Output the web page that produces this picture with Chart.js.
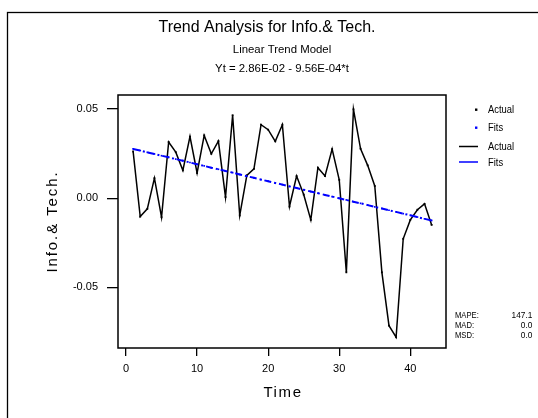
<!DOCTYPE html>
<html>
<head>
<meta charset="utf-8">
<script src="https://cdn.jsdelivr.net/npm/chart.js@4.4.1/dist/chart.umd.min.js"></script>
<style>
  html, body { margin: 0; padding: 0; background: #fff; overflow: hidden; }
  #wrap { position: relative; width: 538px; height: 418px; }
</style>
</head>
<body>
<div id="wrap"><canvas id="c" width="538" height="418"></canvas></div>
<script>
// Time index of each observation
const times = [1, 2, 3, 4, 5, 6, 7, 8, 9, 10, 11, 12, 13, 14, 15, 16, 17, 18, 19, 20, 21,
               22, 23, 24, 25, 26, 27, 28, 29, 30, 31, 32, 33, 34, 35, 36, 37, 38, 39, 40, 41, 42, 43];

// Observed Info.& Tech. values
const actual = [0.0262, -0.0103, -0.0060, 0.0112, -0.0107, 0.0315, 0.0258, 0.0156, 0.0345, 0.0141,
                0.0352, 0.0249, 0.0320, 0.0006, 0.0465, -0.0097, 0.0128, 0.0164, 0.0412, 0.0384,
                0.0319, 0.0412, -0.0047, 0.0124, 0.0020, -0.0122, 0.0171, 0.0124, 0.0275, 0.0103,
                -0.0416, 0.0498, 0.0277, 0.0184, 0.0068, -0.0416, -0.0715, -0.0780, -0.0228, -0.0122,
                -0.0065, -0.0032, -0.0150];

// Fitted values of the linear trend model
const fits = [0.0276, 0.0267, 0.0257, 0.0248, 0.0238, 0.0229, 0.0219, 0.0210, 0.0200, 0.0190,
              0.0181, 0.0171, 0.0162, 0.0152, 0.0143, 0.0133, 0.0123, 0.0114, 0.0104, 0.0095,
              0.0085, 0.0076, 0.0066, 0.0057, 0.0047, 0.0037, 0.0028, 0.0018, 0.0009, -0.0001,
              -0.0010, -0.0020, -0.0029, -0.0039, -0.0049, -0.0058, -0.0068, -0.0077, -0.0087, -0.0096,
              -0.0106, -0.0116, -0.0125];

const xTicks = [0, 10, 20, 30, 40];
const yTicks = [-0.05, 0, 0.05];
const yTickLabels = ['-0.05', '0.00', '0.05'];

const titleText = 'Trend Analysis for Info.& Tech.';
const subtitleLines = ['Linear Trend Model', 'Yt = 2.86E-02 - 9.56E-04*t'];
const xTitle = 'Time';
const yTitle = 'Info.& Tech.';
const legendLabels = ['Actual', 'Fits', 'Actual', 'Fits'];
const statNames = ['MAPE:', 'MAD:', 'MSD:'];
const statValues = ['147.1', '0.0', '0.0'];

const FONT = '"Liberation Sans", Arial, Helvetica, sans-serif';
const BLUE = '#0000ff';

function text(ctx, str, x, y, size, align, sx, spacing) {
  ctx.save();
  ctx.translate(x, y);
  ctx.scale(sx || 1, 1);
  ctx.font = size + 'px ' + FONT;
  ctx.textAlign = align || 'left';
  ctx.textBaseline = 'alphabetic';
  ctx.letterSpacing = (spacing || 0) + 'px';
  ctx.fillStyle = '#000';
  ctx.fillText(str, 0, 0);
  ctx.restore();
}

// Page decorations: frame, titles, axis titles, legend and accuracy measures
const decor = {
  id: 'decor',
  beforeDraw(chart) {
    const ctx = chart.ctx;
    ctx.save();
    ctx.fillStyle = '#fff';
    ctx.fillRect(0, 0, chart.width, chart.height);
    ctx.restore();
  },
  afterDraw(chart) {
    const ctx = chart.ctx;
    const a = chart.chartArea;
    ctx.save();
    // outer frame
    ctx.strokeStyle = '#000';
    ctx.lineWidth = 1.3;
    ctx.strokeRect(7.5, 12.5, 700, 700);
    // plot box
    ctx.lineWidth = 1.5;
    ctx.strokeRect(a.left, a.top, a.right - a.left, a.bottom - a.top);
    ctx.restore();

    // titles
    text(ctx, titleText, 267, 31.5, 17, 'center', 0.94);
    text(ctx, subtitleLines[0], 282, 53, 11.4, 'center', 1);
    text(ctx, subtitleLines[1], 282, 72, 11.4, 'center', 1);

    // axis titles
    text(ctx, xTitle, (a.left + a.right) / 2 + 1, 397, 15, 'center', 1, 1.6);
    ctx.save();
    ctx.translate(57.3, (a.top + a.bottom) / 2);
    ctx.rotate(-Math.PI / 2);
    text(ctx, yTitle, 0, 0, 15, 'center', 1, 1.9);
    ctx.restore();

    // legend
    const rows = [112.5, 130.5, 149.5, 165.5];
    ctx.save();
    ctx.fillStyle = '#000';
    ctx.fillRect(475, 108.5, 2.4, 2.4);
    ctx.fillStyle = BLUE;
    ctx.fillRect(475, 126.5, 2.4, 2.4);
    ctx.lineWidth = 1.5;
    ctx.strokeStyle = '#000';
    ctx.beginPath(); ctx.moveTo(459, 146.5); ctx.lineTo(478, 146.5); ctx.stroke();
    ctx.strokeStyle = BLUE;
    ctx.beginPath(); ctx.moveTo(459, 162); ctx.lineTo(478, 162); ctx.stroke();
    ctx.restore();
    legendLabels.forEach((lab, i) => text(ctx, lab, 488, rows[i], 10, 'left', 0.94));

    // accuracy measures
    const srows = [318, 328, 338];
    statNames.forEach((n, i) => text(ctx, n, 455, srows[i], 9, 'left', 0.85));
    statValues.forEach((v, i) => text(ctx, v, 532.3, srows[i], 9, 'right', 0.92));
  }
};

new Chart(document.getElementById('c').getContext('2d'), {
  type: 'line',
  data: {
    datasets: [
      {
        label: 'Actual',
        data: times.map((t, i) => ({ x: t, y: actual[i] })),
        borderColor: '#000',
        borderWidth: 1.5,
        pointStyle: 'rect',
        pointRadius: 1.3,
        pointBackgroundColor: '#000',
        pointBorderWidth: 0,
        tension: 0,
        order: 1
      },
      {
        label: 'Fits',
        data: times.map((t, i) => ({ x: t, y: fits[i] })),
        borderColor: BLUE,
        borderWidth: 2,
        borderDash: [7, 3, 2, 3],
        pointStyle: 'rect',
        pointRadius: 1.2,
        pointBackgroundColor: BLUE,
        pointBorderWidth: 0,
        tension: 0,
        order: 0
      }
    ]
  },
  options: {
    responsive: false,
    animation: false,
    devicePixelRatio: 1,
    layout: { padding: { left: 0, top: 95, right: 92, bottom: 0 } },
    plugins: {
      legend: { display: false },
      tooltip: { enabled: false },
      title: { display: false }
    },
    scales: {
      x: {
        type: 'linear',
        min: -1.126,
        max: 45.02,
        afterBuildTicks: s => { s.ticks = xTicks.map(v => ({ value: v })); },
        afterFit: s => { s.height = 70; },
        grid: { drawOnChartArea: false, drawTicks: true, tickLength: 8, color: '#000', lineWidth: 1.3 },
        border: { display: false },
        ticks: {
          color: '#000', padding: 6, maxRotation: 0, autoSkip: false,
          font: { family: FONT, size: 11 },
          callback: v => String(v)
        }
      },
      y: {
        type: 'linear',
        min: -0.08404,
        max: 0.05785,
        afterBuildTicks: s => { s.ticks = yTicks.map(v => ({ value: v })); },
        afterFit: s => { s.width = 118; },
        grid: { drawOnChartArea: false, drawTicks: true, tickLength: 11, color: '#000', lineWidth: 1.3 },
        border: { display: false },
        ticks: {
          color: '#000', padding: 9, autoSkip: false,
          font: { family: FONT, size: 11 },
          callback: (v, i) => yTickLabels[i]
        }
      }
    }
  },
  plugins: [decor]
});
</script>
</body>
</html>
